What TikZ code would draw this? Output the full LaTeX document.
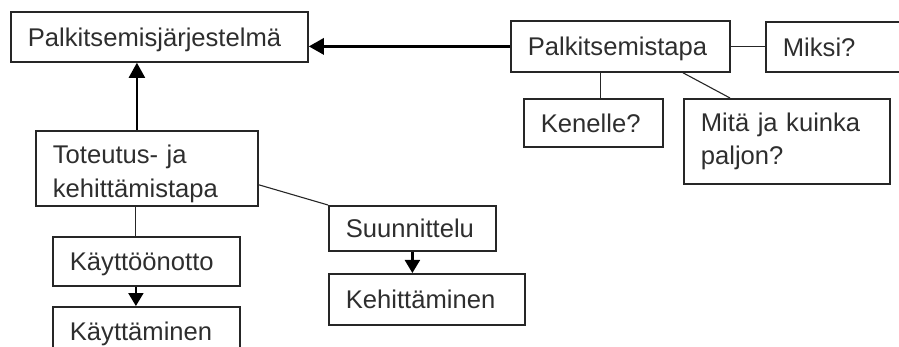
\documentclass[tikz,border=0pt]{standalone}
\usepackage{fontspec}
\setmainfont{Liberation Sans}
\usepackage{xcolor}
\usepackage{tikz}
\usetikzlibrary{arrows.meta,positioning,calc}
\definecolor{txtgray}{gray}{0.18}
\tikzset{
    box/.style={draw=black!85, line width=0.9pt, rectangle, anchor=north west,
        align=left, inner xsep=8.5pt, inner ysep=0pt,
        text=txtgray, font=\fontsize{12.8}{16.8}\selectfont},
    onebox/.style={box, text depth=0pt},
    thin/.style={draw=black!85, line width=0.55pt},
    bigarrow/.style={draw=black, line width=1.5pt, -{Triangle[length=7.5pt,width=8pt]}},
    smallarrow/.style={draw=black, line width=1.1pt, -{Triangle[length=6.5pt,width=7.5pt]}}
}

\begin{document}
\begin{tikzpicture}[x=0.5pt,y=-0.5pt]
    \useasboundingbox (0,0) rectangle (899,347);

    % Main system
    \node[onebox, text width=131.5pt, minimum height=25pt] (pj) at (10,11) {Palkitsemisj\"arjestelm\"a};

    % Reward method and its questions
    \node[onebox, text width=92.5pt, minimum height=25.5pt] (ps) at (510,20) {Palkitsemistapa};
    \node[onebox, text width=78pt, minimum height=25pt] (mk) at (765,21) {Miksi?};
    \node[onebox, text width=52.5pt, minimum height=24pt] (ke) at (523,98) {Kenelle?};
    \node[box, text width=86pt, minimum height=42.5pt] (mi) at (683,98) {Mit\"a ja kuinka\\paljon?};

    \draw[bigarrow] (ps.west) -- (ps.west -| pj.east);
    \draw[thin] (ps.east) -- (ps.east -| mk.west);
    \coordinate (kx) at ($(ke.north)+(7,0)$);
    \draw[thin] (kx) -- (kx |- ps.south);
    \draw[thin] ($(ps.south west)+(173,0)$) -- ($(mi.north west)+(47,0)$);

    % Implementation and development
    \node[box, text width=94pt, minimum height=37.5pt, text depth=14pt] (tk) at (35,130) {Toteutus- ja\\kehitt\"amistapa};
    \node[onebox, text width=76.5pt, minimum height=24.5pt] (kt) at (52,236) {K\"aytt\"o\"onotto};
    \node[onebox, text width=76.5pt, minimum height=24.5pt] (ka) at (52,306) {K\"aytt\"aminen};
    \node[onebox, text width=66.5pt, minimum height=22.5pt] (su) at (328,205) {Suunnittelu};
    \node[onebox, text width=81pt, minimum height=25.5pt] (kh) at (328,273) {Kehitt\"aminen};

    \coordinate (tx) at ($(tk.north)+(-10,0)$);
    \draw[bigarrow, line width=1.1pt] (tx) -- (tx |- pj.south);
    \coordinate (bx) at ($(kt.north)+(-10.5,0)$);
    \draw[thin] (bx |- tk.south) -- (bx);
    \draw[smallarrow] (bx |- kt.south) -- (bx |- ka.north);
    \draw[thin] ($(tk.south east)+(0,-22)$) -- (su.north west);
    \draw[smallarrow] (su.south) -- (su.south |- kh.north);
\end{tikzpicture}
\end{document}
